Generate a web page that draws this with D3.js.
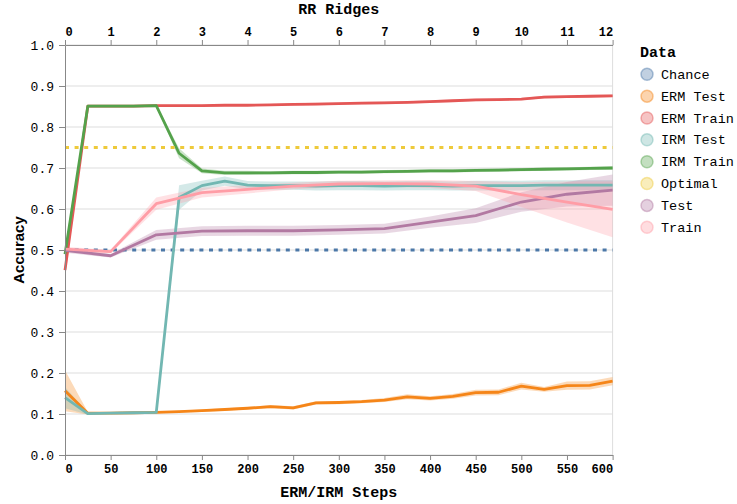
<!DOCTYPE html>
<html>
<head>
<meta charset="utf-8">
<script src="https://cdn.jsdelivr.net/npm/d3@7"></script>
<style>
  body { margin: 0; background: #fff; }
  svg { display: block; }
</style>
</head>
<body>
<svg id="chart" width="737" height="504"></svg>
<script>
// ---------- data ----------
const steps = [0,25,50,75,100,125,150,175,200,225,250,275,300,325,350,375,400,425,450,475,500,525,550,575,600];
const ridges = [0,1,2,3,4,5,6,7,8,9,10,11,12];
const stepTicks = [0,50,100,150,200,250,300,350,400,450,500,550,600];
const ridgeTicks = [0,1,2,3,4,5,6,7,8,9,10,11,12];
const yTicks = [0,0.1,0.2,0.3,0.4,0.5,0.6,0.7,0.8,0.9,1.0];

const seriesNames = ["Chance","ERM Test","ERM Train","IRM Test","IRM Train","Optimal","Test","Train"];
const colors = ["#4c78a8","#f58518","#e45756","#72b7b2","#54a24b","#eeca3b","#b279a2","#ff9da6"];

const chanceValue = 0.5;
const optimalValue = 0.75;

const ermTest = [0.157,0.102,0.102,0.103,0.104,0.106,0.108,0.111,0.114,0.118,0.115,0.127,0.128,0.130,0.134,0.142,0.138,0.143,0.152,0.153,0.168,0.160,0.169,0.170,0.180];
const ermTestCI = [0.050,0.003,0.002,0.002,0.002,0.002,0.003,0.003,0.003,0.004,0.004,0.004,0.004,0.004,0.005,0.006,0.005,0.006,0.007,0.007,0.008,0.006,0.010,0.010,0.010];

const ermTrain = [0.451,0.851,0.851,0.851,0.852,0.852,0.852,0.853,0.853,0.854,0.855,0.856,0.857,0.858,0.859,0.860,0.862,0.864,0.866,0.867,0.868,0.873,0.874,0.875,0.876];
const ermTrainCI = [0.020,0.002,0.002,0.002,0.002,0.002,0.002,0.002,0.002,0.002,0.003,0.003,0.003,0.003,0.003,0.003,0.003,0.003,0.003,0.003,0.003,0.003,0.003,0.003,0.003];

const irmTest = [0.140,0.101,0.102,0.103,0.104,0.628,0.657,0.668,0.658,0.657,0.657,0.656,0.657,0.657,0.656,0.657,0.657,0.656,0.657,0.657,0.657,0.658,0.658,0.658,0.658];
const irmTestCI = [0.026,0.002,0.002,0.002,0.002,0.030,0.012,0.011,0.010,0.010,0.010,0.011,0.011,0.011,0.011,0.011,0.011,0.011,0.012,0.012,0.012,0.012,0.012,0.012,0.012];

const irmTrain = [0.490,0.851,0.851,0.851,0.852,0.736,0.693,0.688,0.688,0.688,0.689,0.689,0.690,0.690,0.691,0.692,0.693,0.693,0.694,0.695,0.696,0.697,0.698,0.699,0.700];
const irmTrainCI = [0.015,0.003,0.003,0.003,0.003,0.012,0.006,0.005,0.005,0.004,0.004,0.004,0.004,0.004,0.004,0.004,0.004,0.004,0.004,0.004,0.004,0.004,0.004,0.004,0.004];

const testAcc = [0.499,0.486,0.537,0.546,0.547,0.547,0.549,0.552,0.568,0.584,0.617,0.636,0.646];
const testCI = [0.006,0.004,0.012,0.012,0.012,0.012,0.012,0.012,0.014,0.018,0.024,0.030,0.038];

const trainAcc = [0.502,0.496,0.613,0.640,0.648,0.656,0.661,0.662,0.661,0.656,0.635,0.617,0.599];
const trainCI = [0.006,0.004,0.015,0.012,0.010,0.008,0.008,0.008,0.010,0.012,0.030,0.050,0.068];

// ---------- layout ----------
const svg = d3.select("#chart");
const L = 65, R = 612.6, T = 45, B = 455;
const x = d3.scaleLinear().domain([0,600]).range([L,R]);
const xr = d3.scaleLinear().domain([0,12]).range([L,R]);
const y = d3.scaleLinear().domain([0,1]).range([B,T]);

const monoFont = "'Liberation Mono', 'DejaVu Sans Mono', monospace";

// grid
svg.append("g").selectAll("line").data(yTicks).join("line")
  .attr("x1", L).attr("x2", R)
  .attr("y1", d => y(d)).attr("y2", d => y(d))
  .attr("stroke", "#ddd").attr("stroke-width", 1);
// view border
svg.append("line").attr("x1", R).attr("x2", R).attr("y1", T).attr("y2", B)
  .attr("stroke", "#ddd").attr("stroke-width", 1);

// ---------- series ----------
const stepSeries = [
  {name:"ERM Test", v: ermTest, ci: ermTestCI},
  {name:"ERM Train", v: ermTrain, ci: ermTrainCI},
  {name:"IRM Test", v: irmTest, ci: irmTestCI},
  {name:"IRM Train", v: irmTrain, ci: irmTrainCI}
];
const ridgeSeries = [
  {name:"Test", v: testAcc, ci: testCI},
  {name:"Train", v: trainAcc, ci: trainCI}
];
const color = d3.scaleOrdinal().domain(seriesNames).range(colors);

const plot = svg.append("g");

function bandFor(xs, sc, s) {
  const pts = xs.map((d,i) => ({x: d, v: s.v[i], c: s.ci[i]}));
  return d3.area().x(d => sc(d.x)).y0(d => y(d.v - d.c)).y1(d => y(d.v + d.c))(pts);
}
function lineFor(xs, sc, vals) {
  const pts = xs.map((d,i) => ({x: d, v: vals[i]}));
  return d3.line().x(d => sc(d.x)).y(d => y(d.v))(pts);
}

// bands
stepSeries.forEach(s => {
  plot.append("path").attr("d", bandFor(steps, x, s))
    .attr("fill", color(s.name)).attr("fill-opacity", 0.3);
});
ridgeSeries.forEach(s => {
  plot.append("path").attr("d", bandFor(ridges, xr, s))
    .attr("fill", color(s.name)).attr("fill-opacity", 0.3);
});

// lines in legend order
const allLines = [
  {name:"Chance", xs: steps, sc: x, v: steps.map(() => chanceValue), dash: true},
  {name:"ERM Test", xs: steps, sc: x, v: ermTest},
  {name:"ERM Train", xs: steps, sc: x, v: ermTrain},
  {name:"IRM Test", xs: steps, sc: x, v: irmTest},
  {name:"IRM Train", xs: steps, sc: x, v: irmTrain},
  {name:"Optimal", xs: steps, sc: x, v: steps.map(() => optimalValue), dash: true},
  {name:"Test", xs: ridges, sc: xr, v: testAcc},
  {name:"Train", xs: ridges, sc: xr, v: trainAcc}
];
allLines.forEach(s => {
  const p = plot.append("path").attr("d", lineFor(s.xs, s.sc, s.v))
    .attr("fill", "none").attr("stroke", color(s.name))
    .attr("stroke-width", 2.8).attr("stroke-linejoin", "round");
  if (s.dash) p.attr("stroke-dasharray", "4,5.6");
});

// ---------- axes ----------
function styleAxis(g) {
  g.select(".domain").attr("stroke", "#888").attr("stroke-width", 1);
  g.selectAll(".tick line").attr("stroke", "#888");
  g.selectAll(".tick text").attr("fill", "#000");
}
const xAxisG = svg.append("g").attr("transform", `translate(0,${B})`)
  .call(d3.axisBottom(x).tickValues(stepTicks).tickSize(5).tickSizeOuter(0).tickPadding(4));
styleAxis(xAxisG);
xAxisG.selectAll(".tick text").attr("font-family", monoFont).attr("font-size", 12).attr("font-weight", "bold");

const topAxisG = svg.append("g").attr("transform", `translate(0,${T})`)
  .call(d3.axisTop(xr).tickValues(ridgeTicks).tickSize(5).tickSizeOuter(0).tickPadding(4));
styleAxis(topAxisG);
topAxisG.selectAll(".tick text").attr("font-family", monoFont).attr("font-size", 12).attr("font-weight", "bold");

[xAxisG, topAxisG].forEach(g => {
  const texts = g.selectAll(".tick text").nodes();
  d3.select(texts[0]).attr("text-anchor", "start");
  d3.select(texts[texts.length - 1]).attr("text-anchor", "end");
});

const yAxisG = svg.append("g").attr("transform", `translate(${L},0)`)
  .call(d3.axisLeft(y).tickValues(yTicks).tickFormat(d3.format(".1f")).tickSize(6).tickSizeOuter(0).tickPadding(5));
styleAxis(yAxisG);
yAxisG.selectAll(".tick text").attr("font-family", monoFont).attr("font-size", 13);

// titles
svg.append("text").attr("x", (L+R)/2).attr("y", 14).attr("text-anchor", "middle")
  .attr("font-family", monoFont).attr("font-weight", "bold").attr("font-size", 15).text("RR Ridges");
svg.append("text").attr("x", (L+R)/2).attr("y", 497).attr("text-anchor", "middle")
  .attr("font-family", monoFont).attr("font-weight", "bold").attr("font-size", 15).text("ERM/IRM Steps");
svg.append("text").attr("transform", `translate(24,${(T+B)/2}) rotate(-90)`).attr("text-anchor", "middle")
  .attr("font-family", "'Liberation Sans', Arial, sans-serif").attr("font-weight", "bold").attr("font-size", 15).text("Accuracy");

// ---------- legend ----------
const lg = svg.append("g").attr("transform", "translate(640,0)");
lg.append("text").attr("x", 0).attr("y", 57).attr("font-family", monoFont)
  .attr("font-weight", "bold").attr("font-size", 15).text("Data");
const items = lg.selectAll("g.item").data(seriesNames).join("g").attr("class", "item")
  .attr("transform", (d,i) => `translate(0,${74.3 + i*21.85})`);
items.append("circle").attr("cx", 7).attr("cy", 0).attr("r", 6)
  .attr("fill", d => color(d)).attr("fill-opacity", 0.35)
  .attr("stroke", d => color(d)).attr("stroke-opacity", 0.45).attr("stroke-width", 1.5);
items.append("text").attr("x", 21).attr("y", 4.5).attr("font-family", monoFont)
  .attr("font-size", 13.5).attr("fill", "#000").text(d => d);
</script>
</body>
</html>
